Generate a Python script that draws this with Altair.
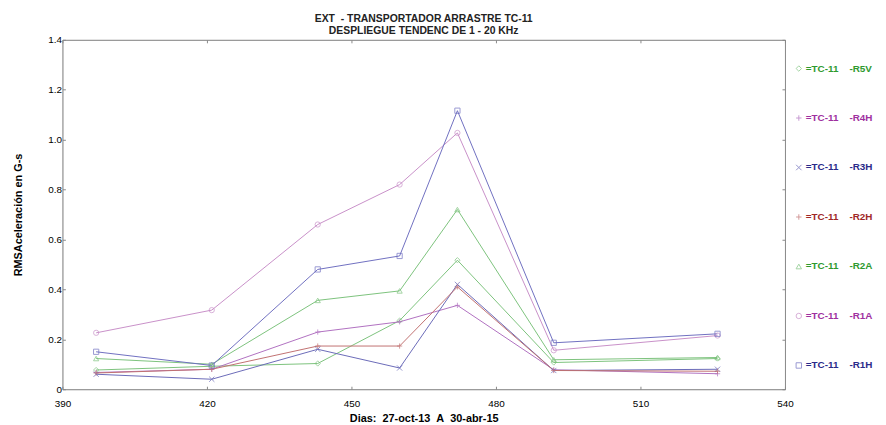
import altair as alt
import pandas as pd

days = [397, 421, 443, 460, 472, 492, 526]
series = ["R5V", "R4H", "R3H", "R2H", "R2A", "R1A", "R1H"]
r5v = [0.077, 0.092, 0.103, 0.275, 0.517, 0.107, 0.123]
r4h = [0.067, 0.080, 0.229, 0.270, 0.336, 0.078, 0.062]
r3h = [0.060, 0.040, 0.160, 0.085, 0.420, 0.075, 0.080]
r2h = [0.065, 0.080, 0.173, 0.173, 0.410, 0.075, 0.072]
r2a = [0.123, 0.100, 0.356, 0.394, 0.720, 0.118, 0.127]
r1a = [0.226, 0.317, 0.660, 0.820, 1.027, 0.156, 0.215]
r1h = [0.150, 0.095, 0.480, 0.534, 1.116, 0.186, 0.222]
x_ticks = [390, 420, 450, 480, 510, 540]
y_ticks = [0, 0.2, 0.4, 0.6, 0.8, 1.0, 1.2, 1.4]

values = {"R5V": r5v, "R4H": r4h, "R3H": r3h, "R2H": r2h,
          "R2A": r2a, "R1A": r1a, "R1H": r1h}
rows = []
for s in series:
    for d, v in zip(days, values[s]):
        rows.append({"dia": d, "rms": v, "serie": s})
df = pd.DataFrame(rows)

line_colors = ["#7cc27c", "#b070c0", "#6a6ab8", "#c07070", "#7cc27c", "#c890c8", "#6f6fc0"]
shapes = ["diamond", "M-1,0L1,0M0,-1L0,1", "M-1,-1L1,1M-1,1L1,-1",
          "M-1,0L1,0M0,-1L0,1", "triangle-up", "circle", "square"]

FONT = "Liberation Sans"
NB = "\u00a0"

color = alt.Color("serie:N", scale=alt.Scale(domain=series, range=line_colors),
                  legend=alt.Legend(
                      title=None, orient="none", legendX=739, legendY=24,
                      rowPadding=40, symbolSize=30, symbolStrokeWidth=1,
                      labelFont=FONT, labelFontSize=10, labelFontWeight="bold",
                      labelExpr="'=TC-11" + NB * 4 + "-' + datum.label",
                      labelColor={"expr": "indexof(['R5V','R2A'], datum.value) >= 0 ? '#2f9a2f' : (indexof(['R4H','R1A'], datum.value) >= 0 ? '#a030a0' : (datum.value == 'R2H' ? '#a02828' : '#2a2a8a'))"},
                      padding=0, labelOffset=2))
shape = alt.Shape("serie:N", scale=alt.Scale(domain=series, range=shapes))

xscale = alt.Scale(domain=[390, 540], nice=False)
yscale = alt.Scale(domain=[0, 1.4], nice=False)

x = alt.X("dia:Q", title="Dias:" + NB * 2 + "27-oct-13" + NB * 2 + "A" + NB * 2 + "30-abr-15",
          scale=xscale,
          axis=alt.Axis(values=x_ticks, grid=False, labelFlush=False,
                        tickSize={"expr": "-3"}, labelPadding=12, titlePadding=5))
y = alt.Y("rms:Q", title="RMSAceleración en G-s",
          scale=yscale,
          axis=alt.Axis(values=y_ticks, grid=False, labelFlush=False,
                        tickSize={"expr": "-3"}, labelPadding=4, titlePadding=24,
                        labelExpr="datum.value == 0 ? '0' : format(datum.value, '.1f')"))

lines = alt.Chart(df).mark_line(strokeWidth=1).encode(x=x, y=y, color=color, detail="serie:N")
points = alt.Chart(df).mark_point(filled=False, size=28, strokeWidth=1).encode(
    x=alt.X("dia:Q", scale=xscale, axis=None),
    y=alt.Y("rms:Q", scale=yscale, axis=None),
    color=color, shape=shape)

frame = alt.Chart(df).mark_point(opacity=0).encode(
    x=alt.X("dia:Q", scale=xscale, title=None,
            axis=alt.Axis(orient="top", values=x_ticks, labels=False, grid=False,
                          tickSize={"expr": "-3"})),
    y=alt.Y("rms:Q", scale=yscale, title=None,
            axis=alt.Axis(orient="right", values=y_ticks, labels=False, grid=False,
                          tickSize={"expr": "-3"})),
)

chart = alt.layer(lines, points, frame).resolve_axis(x="independent", y="independent").properties(
    width=730, height=353,
    padding={"left": 5, "top": 3, "right": 5, "bottom": 0},
    title=alt.Title(["EXT" + NB * 2 + "- TRANSPORTADOR ARRASTRE TC-11", "DESPLIEGUE TENDENC DE 1 - 20 KHz"],
                    font=FONT, fontSize=10.5, fontWeight="bold", anchor="middle",
                    lineHeight=13, offset=-2, color="#222"),
).configure_view(stroke="#999999", strokeWidth=1).configure_axis(
    domainColor="#999999", tickColor="#999999",
    labelFont=FONT, labelFontSize=10, labelFontWeight="bold", labelColor="#222",
    titleFont=FONT, titleFontSize=10, titleFontWeight="bold", titleColor="#222",
).configure(background="white")

chart.save("out.html", embed_options={"renderer": "svg", "actions": False})
